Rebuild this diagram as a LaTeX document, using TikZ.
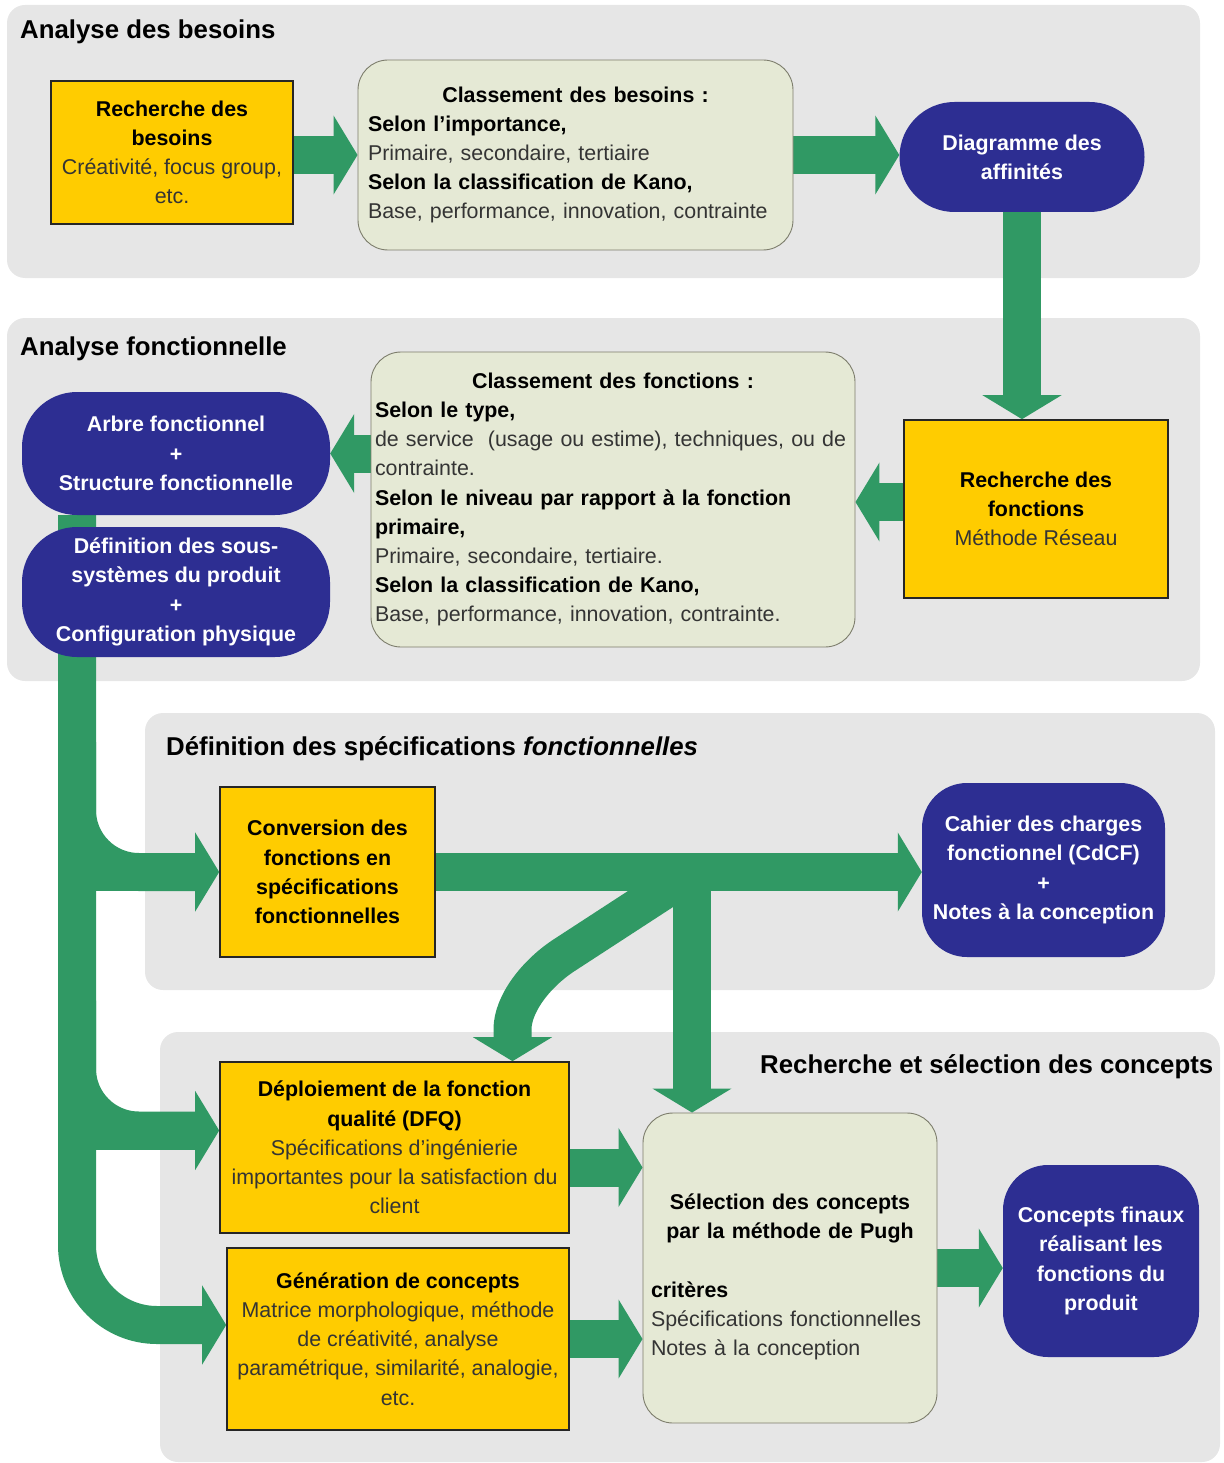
\documentclass[tikz,border=0pt]{standalone}
\usepackage{fontspec}
\setmainfont{Liberation Sans}
\usetikzlibrary{arrows.meta,calc}

\pgfdeclarelayer{panels}
\pgfdeclarelayer{flows}
\pgfsetlayers{panels,flows,main}

\definecolor{panelgray}{RGB}{230,230,230}
\definecolor{sunyellow}{RGB}{255,204,0}
\definecolor{paleolive}{RGB}{229,233,213}
\definecolor{olivebd}{RGB}{125,125,108}
\definecolor{deepblue}{RGB}{45,46,146}
\definecolor{flowgreen}{RGB}{48,153,100}
\definecolor{inkgray}{RGB}{52,52,52}

% bold black heading line inside a box
\newcommand\bhead[1]{\textcolor{black}{\bfseries #1}}

\begin{document}
\begin{tikzpicture}[x=1pt,y=-1pt,
  txt/.style={font=\fontsize{21.4}{29.2}\selectfont},
  panel/.style={fill=panelgray, rounded corners=18pt},
  ptitle/.style={font=\fontsize{25.8}{30}\selectfont\bfseries, anchor=base west, inner sep=0pt},
  ybox/.style={txt, text=inkgray, draw=black!85, line width=1.6pt, fill=sunyellow, align=center, inner sep=2pt},
  gbox/.style={txt, text=inkgray, draw=olivebd, line width=0.9pt, fill=paleolive, rounded corners=30pt, align=left},
  bbox/.style={font=\fontsize{21.4}{29.2}\selectfont\bfseries, text=white, fill=deepblue, align=center, inner sep=2pt},
  flow/.style={draw=flowgreen, line width=38pt, -{Triangle[length=24pt,width=78pt]}},
  flowline/.style={draw=flowgreen, line width=38pt},
]
\useasboundingbox (0,0) rectangle (1223,1463);

% ---- phase panels
\begin{pgfonlayer}{panels}
  \fill[panel] (7,5) rectangle (1200,278);
  \fill[panel] (7,318) rectangle (1200,681);
  \fill[panel] (145,713) rectangle (1215,990);
  \fill[panel] (160,1032) rectangle (1220,1462);
\end{pgfonlayer}

\node[ptitle] (t1) at (20,39) {Analyse des besoins};
\node[ptitle] (t2) at (20,355) {Analyse fonctionnelle};
\node[ptitle] (t3) at (166,755) {Définition des spécifications \textit{fonctionnelles}};
\node[ptitle] (t4) at (760,1073) {Recherche et sélection des concepts};

% ---- needs analysis
\node[ybox, minimum width=242pt, minimum height=143pt] (rb) at (172,152.5)
  {\bhead{Recherche des}\\\bhead{besoins}\\Créativité, focus group,\\etc.};
\node[gbox, text width=415pt, inner xsep=10pt, minimum height=190pt] (cb) at (575.5,155)
  {{\centering\bhead{Classement des besoins :}\par}
   \bhead{Selon l’importance,}\\
   Primaire, secondaire, tertiaire\\
   \bhead{Selon la classification de Kano,}\\
   Base, performance, innovation, contrainte};
\node[bbox, minimum width=245pt, minimum height=110pt, rounded corners=55pt] (diag) at (1022,157)
  {Diagramme des\\affinités};

% ---- functional analysis
\node[ybox, minimum width=264pt, minimum height=178pt] (rf) at (1036,509)
  {\bhead{Recherche des}\\\bhead{fonctions}\\Méthode Réseau};
\node[gbox, text width=476pt, inner xsep=4pt, minimum height=295pt] (cf) at (613,499.5)
  {{\centering\bhead{Classement des fonctions :}\par}
   \bhead{Selon le type,}\\
   de service\ \ (usage ou estime), techniques, ou de\\
   contrainte.\\
   \bhead{Selon le niveau par rapport à la fonction}\\
   \bhead{primaire,}\\
   Primaire, secondaire, tertiaire.\\
   \bhead{Selon la classification de Kano,}\\
   Base, performance, innovation, contrainte.};
\node[bbox, minimum width=308pt, minimum height=123pt, rounded corners=55pt] (arbre) at (176,453.5)
  {Arbre fonctionnel\\+\\Structure fonctionnelle};
\node[bbox, minimum width=308pt, minimum height=130pt, rounded corners=55pt] (defs) at (176,592)
  {Définition des sous-\\systèmes du produit\\+\\Configuration physique};

% ---- functional specifications
\node[ybox, minimum width=215pt, minimum height=170pt] (conv) at (327.5,872)
  {\bhead{Conversion des}\\\bhead{fonctions en}\\\bhead{spécifications}\\\bhead{fonctionnelles}};
\node[bbox, minimum width=243pt, minimum height=174pt, rounded corners=45pt] (cahier) at (1043.5,870)
  {Cahier des charges\\fonctionnel (CdCF)\\+\\Notes à la conception};

% ---- concept search and selection
\node[ybox, minimum width=349pt, minimum height=171pt] (dfq) at (394.5,1147.5)
  {\bhead{Déploiement de la fonction}\\\bhead{qualité (DFQ)}\\Spécifications d’ingénierie\\importantes pour la satisfaction du\\client};
\node[ybox, minimum width=342pt, minimum height=182pt] (gen) at (398,1339)
  {\bhead{Génération de concepts}\\Matrice morphologique, méthode\\de créativité, analyse\\paramétrique, similarité, analogie,\\etc.};
\node[gbox, text width=278pt, inner xsep=8pt, minimum height=310pt] (sel) at (790,1268)
  {{\centering\bhead{Sélection des concepts}\\\bhead{par la méthode de Pugh}\par}
   \vspace{29.2pt}
   \bhead{critères}\\
   Spécifications fonctionnelles\\
   Notes à la conception\par\vspace{-18pt}};
\node[bbox, minimum width=196pt, minimum height=192pt, rounded corners=45pt] (final) at (1101,1261)
  {Concepts finaux\\réalisant les\\fonctions du\\produit};

% ---- green flows
\coordinate (trunk) at ($(arbre.south)+(-99,0)$);
\coordinate (bConv) at (trunk |- conv.west);
\coordinate (bDfq) at ($(trunk |- dfq.west)+(0,-17)$);
\coordinate (J) at ($(sel.north |- conv.east)+(-98,0)$);
\coordinate (dT) at ($(dfq.north)+(118,0)$);

\begin{pgfonlayer}{flows}
  \draw[flow] (rb.east |- cb.west) -- (cb.west);
  \draw[flow] (cb.east) -- (cb.east -| diag.west);
  \draw[flow] (diag.south) -- (diag.south |- rf.north);
  \draw[flow] ($(rf.west)+(0,-7)$) -- ($(rf.west -| cf.east)+(0,-7)$);
  \draw[flow] (cf.west |- arbre.east) -- (arbre.east);

  % trunk down the left side, ending in concept generation
  \draw[flow, rounded corners=80pt] (trunk) |- ($(gen.west)+(0,-14)$);
  % branches off the trunk
  \draw[flowline, rounded corners=62pt] ($(bConv)+(0,-130)$) |- ($(bConv)+(120,0)$);
  \draw[flow] (bConv) -- (conv.west);
  \draw[flowline, rounded corners=62pt] ($(bDfq)+(0,-130)$) |- ($(bDfq)+(120,0)$);
  \draw[flow] (bDfq) -- (bDfq -| dfq.west);

  % specifications out to the CdCF, the selection and the QFD
  \draw[flow] (conv.east) -- (conv.east -| cahier.west);
  \draw[flow] (J) -- (J |- sel.north);
  \draw[flow] (J) -- ($(J)+(-126,82)$)
     .. controls ($(J)+(-156,101)$) and ($(dT)+(0,-57)$) .. ($(dT)+(0,-32)$) -- (dT);

  \draw[flow] ($(dfq.east)+(0,20)$) -- ($(dfq.east -| sel.west)+(0,20)$);
  \draw[flow] (gen.east) -- (gen.east -| sel.west);
  \draw[flow] (sel.east) -- (sel.east -| final.west);
\end{pgfonlayer}
\end{tikzpicture}
\end{document}
